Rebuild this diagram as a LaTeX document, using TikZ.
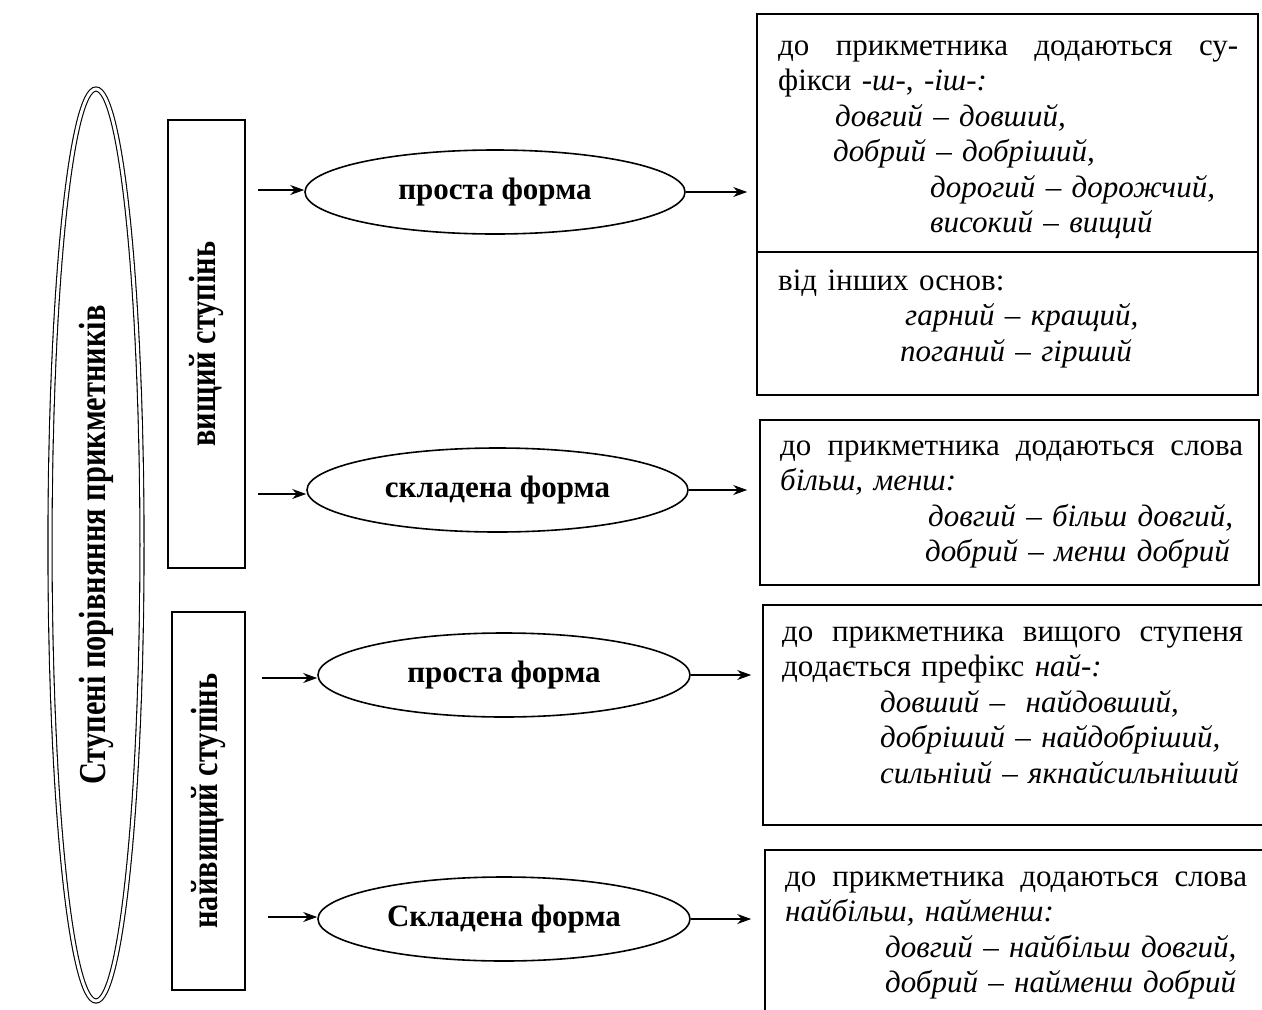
\documentclass[tikz,border=0pt]{standalone}
\usepackage{fontspec}
\setmainfont{Liberation Serif}
\usetikzlibrary{shapes.geometric,arrows.meta,calc}
\tikzset{
  form/.style={draw, line width=1.6pt, ellipse, minimum width=#1, minimum height=84pt, inner sep=0pt,
               font=\fontsize{31}{34}\selectfont\bfseries},
  form/.default=380pt,
  infobox/.style={draw, line width=1.6pt, rectangle, inner sep=0pt},
  degreebox/.style={draw, line width=1.6pt, rectangle, inner sep=0pt},
  arr/.style={line width=1.6pt, -{Stealth[length=14pt,width=10pt]}},
  body/.style={anchor=base west, inner sep=0pt, align=left, text width=480pt,
               font=\fontsize{31}{35.5}\selectfont},
}
\newcommand{\vlabel}[1]{\rotatebox{90}{\scalebox{0.8}[1]{\fontsize{38}{42}\selectfont\bfseries #1}}}
\begin{document}
\begin{tikzpicture}[x=1pt, y=-1pt]
\useasboundingbox[fill=white] (0,0) rectangle (1262,1010);

% main oval
\node[draw, double, double distance=3pt, line width=1.1pt, ellipse,
      minimum width=92pt, minimum height=912pt, inner sep=0pt] (main) at (96,545)
      {\vlabel{Ступені порівняння прикметників}};

% degree boxes
\node[degreebox, minimum width=77pt, minimum height=448pt] (comp) at (206.5,344) {\vlabel{вищий ступінь}};
\node[degreebox, minimum width=73pt, minimum height=378pt] (sup) at (208.5,801) {\vlabel{найвищий ступінь}};

% forms
\node[form=380pt] (e1) at (495,192) {проста форма};
\node[form=381pt] (e2) at (497.5,490) {складена форма};
\node[form=372pt] (e3) at (504,675) {проста форма};
\node[form=372pt] (e4) at (504,919) {Складена форма};

% explanation boxes
\node[infobox, minimum width=501pt, minimum height=238pt] (b1) at (1007.5,133) {};
\node[infobox, minimum width=501pt, minimum height=143pt] (b1b) at (1007.5,323.5) {};
\node[infobox, minimum width=499pt, minimum height=165pt] (b2) at (1009.5,502.5) {};
\node[infobox, minimum width=505pt, minimum height=220pt] (b3) at (1015.5,715) {};
\node[infobox, minimum width=505pt, minimum height=200pt] (b4) at (1017.5,950) {};

% arrow tails
\coordinate (s1) at (258,190);
\coordinate (s2) at (258,494);
\coordinate (s3) at (262,678);
\coordinate (s4) at (268,917);

\draw[arr] (s1) -- (s1 -| e1.west);
\draw[arr] (s2) -- (s2 -| e2.west);
\draw[arr] (s3) -- (s3 -| e3.west);
\draw[arr] (s4) -- (s4 -| e4.west);

\draw[arr, shorten >=9pt] (e1.east) -- (e1.east -| b1.west);
\draw[arr, shorten >=12pt] (e2.east) -- (e2.east -| b2.west);
\draw[arr, shorten >=11pt] (e3.east) -- (e3.east -| b3.west);
\draw[arr, shorten >=13pt] (e4.east) -- (e4.east -| b4.west);

% texts
\node[body] (t1) at (778,55) {\hbox to 460pt{до\hfill прикметника\hfill додаються\hfill су-}\\
фікси \textit{-ш-}, \textit{-іш-:}\\
\hspace*{57pt}\textit{довгий – довший,}\\
\hspace*{55pt}\textit{добрий – добріший,}\\
\hspace*{152pt}\textit{дорогий – дорожчий,}\\
\hspace*{152pt}\textit{високий – вищий}};

\node[body] (t1b) at (778,290) {від інших основ:\\
\hspace*{127pt}\textit{гарний – кращий,}\\
\hspace*{122pt}\textit{поганий – гірший}};

\node[body] (t2) at (780,455) {\hbox to 463pt{до\hfill прикметника\hfill додаються\hfill слова}\\
\textit{більш, менш:}\\
\hspace*{148pt}\textit{довгий – більш довгий,}\\
\hspace*{145pt}\textit{добрий – менш добрий}};

\node[body] (t3) at (782,641) {\hbox to 461pt{до\hfill прикметника\hfill вищого\hfill ступеня}\\
додається префікс \textit{най-:}\\
\hspace*{98pt}\textit{довший –\ \ найдовший,}\\
\hspace*{98pt}\textit{добріший – найдобріший,}\\
\hspace*{98pt}\textit{сильніий – якнайсильніший}};

\node[body] (t4) at (785,886) {\hbox to 462pt{до\hfill прикметника\hfill додаються\hfill слова}\\
\textit{найбільш, найменш:}\\
\hspace*{100pt}\textit{довгий – найбільш довгий,}\\
\hspace*{100pt}\textit{добрий – найменш добрий}};
\end{tikzpicture}
\end{document}
